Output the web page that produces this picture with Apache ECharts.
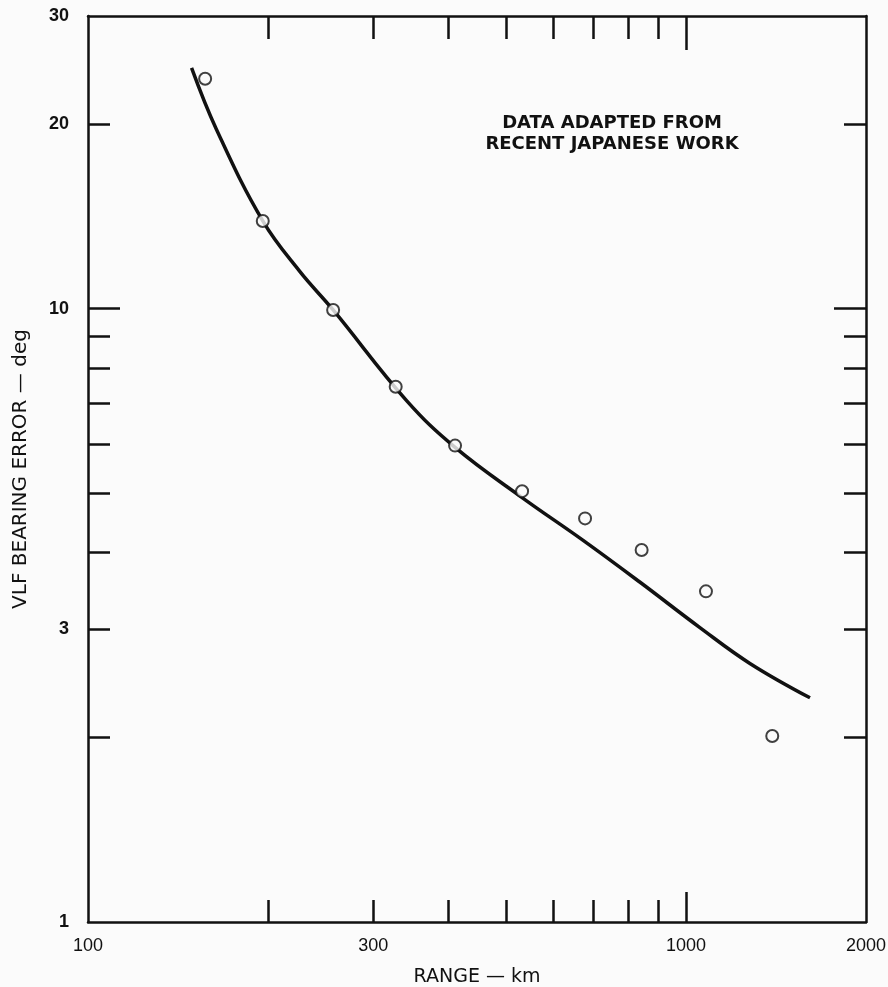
<!DOCTYPE html>
<html>
<head>
<meta charset="utf-8">
<script src="https://cdn.jsdelivr.net/npm/echarts@6/dist/echarts.min.js"></script>
<style>
html,body{margin:0;padding:0;background:#fbfbfb;}
#main{width:888px;height:987px;}
</style>
</head>
<body>
<div id="main"></div>
<script>
// Measured points (range km, bearing error deg)
const pointRange = [157, 196, 257, 327, 411, 532, 678, 843, 1080, 1394];
const pointError = [23.7, 13.9, 9.95, 7.46, 5.98, 5.04, 4.55, 4.04, 3.46, 2.01];
// Fitted curve
const curveRange = [149, 164, 196, 226, 257, 341, 411, 532, 673, 838, 1055, 1279, 1612];
const curveError = [24.7, 19.6, 13.9, 11.5, 9.95, 7.08, 5.94, 4.92, 4.19, 3.58, 3.02, 2.64, 2.32];
// Axis ticks and labels
const xMinorTicks = [200, 300, 400, 500, 600, 700, 800, 900];
const xMajorTicks = [1000];
const xLabels = [100, 300, 1000, 2000];
const yMinorTicks = [2, 3, 4, 5, 6, 7, 8, 9, 20];
const yMajorTicks = [10];
const yLabels = [1, 3, 10, 20, 30];
const noteLines = ['DATA ADAPTED FROM', 'RECENT JAPANESE WORK'];

const FONT = '"Liberation Sans", Arial, sans-serif';
const WIDE = '"DejaVu Sans", sans-serif';
const INK = '#111';
const BG = '#fbfbfb';

const chart = echarts.init(document.getElementById('main'));
const plain = v => String(Math.round(v));

function xAx(pos, ticks, len, showLine, labels) {
  return {
    type: 'log', logBase: 10, min: 100, max: 2000, position: pos, gridIndex: 0,
    axisLine: { show: showLine, onZero: false, lineStyle: { color: INK, width: 2.5 } },
    axisTick: { show: true, inside: true, length: len, customValues: ticks, lineStyle: { color: INK, width: 2.5 } },
    axisLabel: labels ? { show: true, customValues: labels, formatter: plain, color: INK, fontFamily: FONT, fontSize: 18, margin: 15 } : { show: false },
    splitLine: { show: false }, minorTick: { show: false }
  };
}
function yAx(pos, ticks, len, showLine, labels) {
  return {
    type: 'log', logBase: 10, min: 1, max: 30, position: pos, gridIndex: 0,
    axisLine: { show: showLine, onZero: false, lineStyle: { color: INK, width: 2.5 } },
    axisTick: { show: true, inside: true, length: len, customValues: ticks, lineStyle: { color: INK, width: 2.5 } },
    axisLabel: labels ? { show: true, customValues: labels, formatter: plain, color: INK, fontFamily: FONT, fontSize: 18, fontWeight: 'bold', margin: 19 } : { show: false },
    splitLine: { show: false }, minorTick: { show: false }
  };
}

const xAxes = [
  xAx('bottom', xMinorTicks, 22, true, xLabels),
  xAx('bottom', xMajorTicks, 30, false, null),
  xAx('top', xMinorTicks, 23, true, null),
  xAx('top', xMajorTicks, 34, false, null)
];
xAxes[0].name = 'RANGE — km';
xAxes[0].nameLocation = 'middle';
xAxes[0].nameGap = 46;
xAxes[0].nameTextStyle = { color: INK, fontFamily: WIDE, fontSize: 19 };

const yAxes = [
  yAx('left', yMinorTicks, 22, true, yLabels),
  yAx('left', yMajorTicks, 32, false, null),
  yAx('right', yMinorTicks, 22, true, null),
  yAx('right', yMajorTicks, 32, false, null)
];
yAxes[0].name = 'VLF BEARING ERROR — deg';
yAxes[0].nameLocation = 'middle';
yAxes[0].nameGap = 57;
yAxes[0].nameRotate = 90;
yAxes[0].nameTextStyle = { color: INK, fontFamily: WIDE, fontSize: 20 };

chart.setOption({
  backgroundColor: BG,
  animation: false,
  grid: { left: 88, right: 22, top: 16, bottom: 65, containLabel: false, outerBoundsMode: 'none' },
  xAxis: xAxes,
  yAxis: yAxes,
  graphic: noteLines.map((t, i) => ({
    type: 'text',
    style: { text: t, x: 612, y: 123 + i * 21, align: 'center', verticalAlign: 'middle',
             font: 'bold 18px ' + WIDE, fill: INK }
  })),
  series: [
    {
      type: 'line', xAxisIndex: 0, yAxisIndex: 0, smooth: 0.4, symbol: 'none',
      lineStyle: { color: INK, width: 3.5 },
      data: curveRange.map((r, i) => [r, curveError[i]])
    },
    {
      type: 'scatter', xAxisIndex: 0, yAxisIndex: 0, symbol: 'circle', symbolSize: 12, z: 3,
      itemStyle: { color: BG, borderColor: INK, borderWidth: 2 },
      data: pointRange.map((r, i) => [r, pointError[i]])
    }
  ]
});
</script>
</body>
</html>
